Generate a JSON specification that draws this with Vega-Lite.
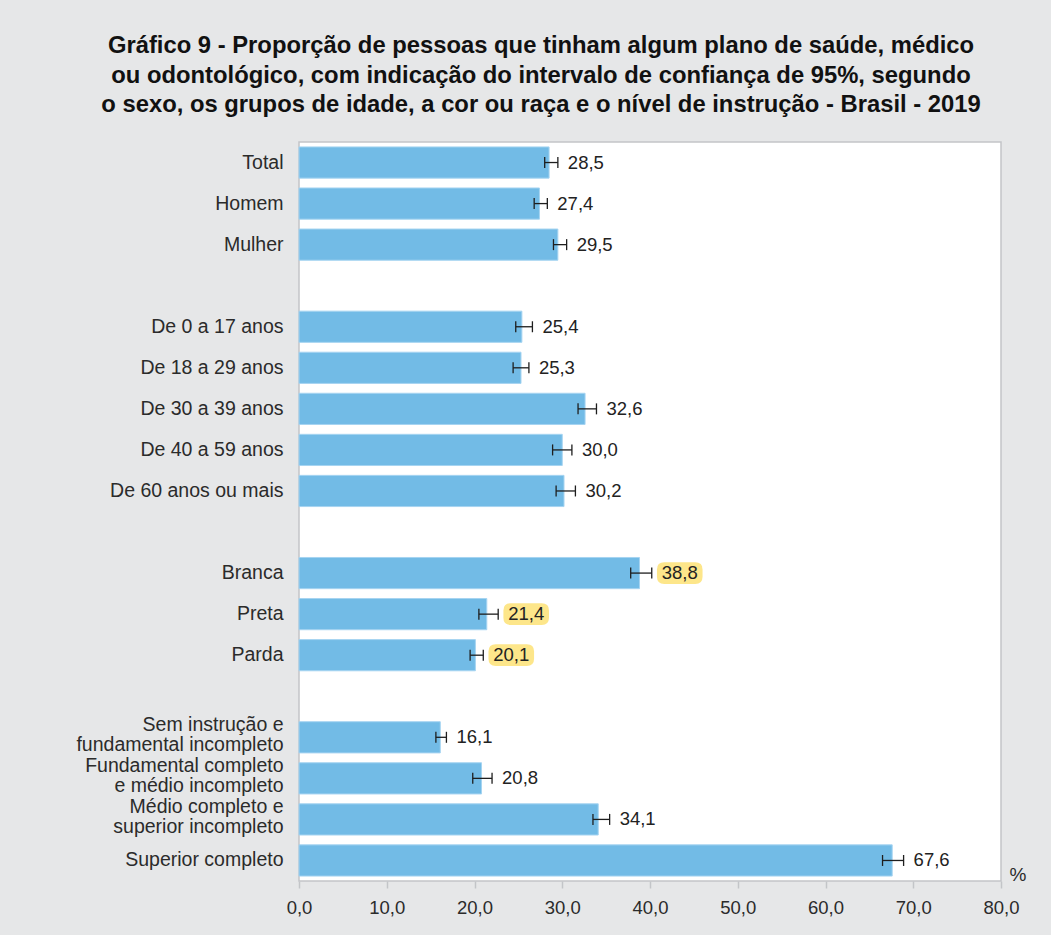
{
  "$schema": "https://vega.github.io/schema/vega-lite/v6.json",
  "autosize": {"type": "none"},
  "width": 702,
  "height": 739,
  "padding": {"left": 299, "top": 142, "right": 50, "bottom": 54},
  "background": "#e6e7e8",
  "title": {
    "text": ["Gráfico 9 - Proporção de pessoas que tinham algum plano de saúde, médico", "ou odontológico, com indicação do intervalo de confiança de 95%, segundo", "o sexo, os grupos de idade, a cor ou raça e o nível de instrução - Brasil - 2019"],
    "anchor": "middle",
    "frame": "group",
    "dx": -109,
    "offset": 25,
    "font": "Liberation Sans",
    "fontSize": 23.8,
    "fontWeight": "bold",
    "lineHeight": 29.5,
    "color": "#111111"
  },
  "data": {
    "values": [
      {"categoria": "Total", "grupo": "Total", "valor": 28.5, "li": 28.0, "ls": 29.5},
      {"categoria": "Homem", "grupo": "Sexo", "valor": 27.4, "li": 26.8, "ls": 28.3},
      {"categoria": "Mulher", "grupo": "Sexo", "valor": 29.5, "li": 29.0, "ls": 30.5},
      {"categoria": "De 0 a 17 anos", "grupo": "Idade", "valor": 25.4, "li": 24.7, "ls": 26.6},
      {"categoria": "De 18 a 29 anos", "grupo": "Idade", "valor": 25.3, "li": 24.4, "ls": 26.2},
      {"categoria": "De 30 a 39 anos", "grupo": "Idade", "valor": 32.6, "li": 31.8, "ls": 33.9},
      {"categoria": "De 40 a 59 anos", "grupo": "Idade", "valor": 30.0, "li": 28.9, "ls": 31.1},
      {"categoria": "De 60 anos ou mais", "grupo": "Idade", "valor": 30.2, "li": 29.3, "ls": 31.5},
      {"categoria": "Branca", "grupo": "Cor ou raça", "valor": 38.8, "li": 37.8, "ls": 40.2},
      {"categoria": "Preta", "grupo": "Cor ou raça", "valor": 21.4, "li": 20.5, "ls": 22.7},
      {"categoria": "Parda", "grupo": "Cor ou raça", "valor": 20.1, "li": 19.5, "ls": 21.0},
      {"categoria": "Sem instrução e|fundamental incompleto", "grupo": "Instrução", "valor": 16.1, "li": 15.6, "ls": 16.8},
      {"categoria": "Fundamental completo|e médio incompleto", "grupo": "Instrução", "valor": 20.8, "li": 19.8, "ls": 22.0},
      {"categoria": "Médio completo e|superior incompleto", "grupo": "Instrução", "valor": 34.1, "li": 33.5, "ls": 35.4},
      {"categoria": "Superior completo", "grupo": "Instrução", "valor": 67.6, "li": 66.5, "ls": 68.9}
    ]
  },
  "encoding": {
    "y": {
      "field": "categoria",
      "type": "nominal",
      "scale": {
        "domain": ["Total", "Homem", "Mulher", "g1", "De 0 a 17 anos", "De 18 a 29 anos", "De 30 a 39 anos", "De 40 a 59 anos", "De 60 anos ou mais", "g2", "Branca", "Preta", "Parda", "g3", "Sem instrução e|fundamental incompleto", "Fundamental completo|e médio incompleto", "Médio completo e|superior incompleto", "Superior completo"],
        "paddingInner": 0.24,
        "paddingOuter": 0.12
      },
      "axis": {
        "title": null,
        "ticks": false,
        "domain": false,
        "labelPadding": 16,
        "labelFont": "Liberation Sans",
        "labelFontSize": 19.5,
        "labelLineHeight": 19.5,
        "labelColor": "#2b2b2b",
        "labelLimit": 400,
        "labelOffset": {"condition": {"test": "indexof(datum.value, '|') >= 0", "value": -12}, "value": 0},
        "labelExpr": "length(datum.label) < 3 ? '' : split(datum.label, '|')"
      }
    }
  },
  "layer": [
    {
      "mark": {"type": "bar", "color": "#72bbe6", "stroke": "#a6d4f1", "strokeWidth": 1},
      "encoding": {
        "x": {
          "field": "valor",
          "type": "quantitative",
          "scale": {"domain": [0, 80], "nice": false},
          "axis": {
            "values": [0, 10, 20, 30, 40, 50, 60, 70, 80],
            "format": ".1f",
            "grid": false,
            "domain": false,
            "ticks": true,
            "tickSize": 7,
            "tickWidth": 1.5,
            "tickColor": "#c3c5c8",
            "labelFlush": false,
            "labelPadding": 10,
            "labelFont": "Liberation Sans",
            "labelFontSize": 18.5,
            "labelColor": "#2b2b2b",
            "title": "%",
            "titleFont": "Liberation Sans",
            "titleFontSize": 19,
            "titleFontWeight": "normal",
            "titleColor": "#2b2b2b",
            "titleAlign": "left",
            "titleAnchor": "start",
            "titleBaseline": "alphabetic",
            "titleX": 710,
            "titleY": -1
          }
        }
      }
    },
    {
      "transform": [{"filter": "datum.grupo == 'Cor ou raça'"}],
      "mark": {
        "type": "point",
        "shape": "M -0.68 -0.476 L 0.68 -0.476 Q 1 -0.476 1 -0.16 L 1 0.16 Q 1 0.476 0.68 0.476 L -0.68 0.476 Q -1 0.476 -1 0.16 L -1 -0.16 Q -1 -0.476 -0.68 -0.476 Z",
        "size": 2079,
        "filled": true,
        "fill": "#fde68a",
        "stroke": null,
        "opacity": 1,
        "xOffset": 28
      },
      "encoding": {
        "x": {"field": "ls", "type": "quantitative"}
      }
    },
    {
      "mark": {"type": "rule", "color": "#1e1e1e", "strokeWidth": 1.3},
      "encoding": {
        "x": {"field": "li", "type": "quantitative"},
        "x2": {"field": "ls"}
      }
    },
    {
      "mark": {"type": "tick", "color": "#1e1e1e", "thickness": 1.3, "size": 11, "opacity": 1},
      "encoding": {
        "x": {"field": "li", "type": "quantitative"}
      }
    },
    {
      "mark": {"type": "tick", "color": "#1e1e1e", "thickness": 1.3, "size": 11, "opacity": 1},
      "encoding": {
        "x": {"field": "ls", "type": "quantitative"}
      }
    },
    {
      "mark": {"type": "text", "align": "left", "baseline": "middle", "dx": 10, "font": "Liberation Sans", "fontSize": 18.5, "color": "#222222"},
      "encoding": {
        "x": {"field": "ls", "type": "quantitative"},
        "text": {"field": "valor", "type": "quantitative", "format": ".1f"}
      }
    }
  ],
  "config": {
    "locale": {"number": {"decimal": ",", "thousands": ".", "grouping": [3], "currency": ["R$ ", ""]}},
    "view": {"fill": "#ffffff", "stroke": "#c3c5c8", "strokeWidth": 1.5}
  }
}
